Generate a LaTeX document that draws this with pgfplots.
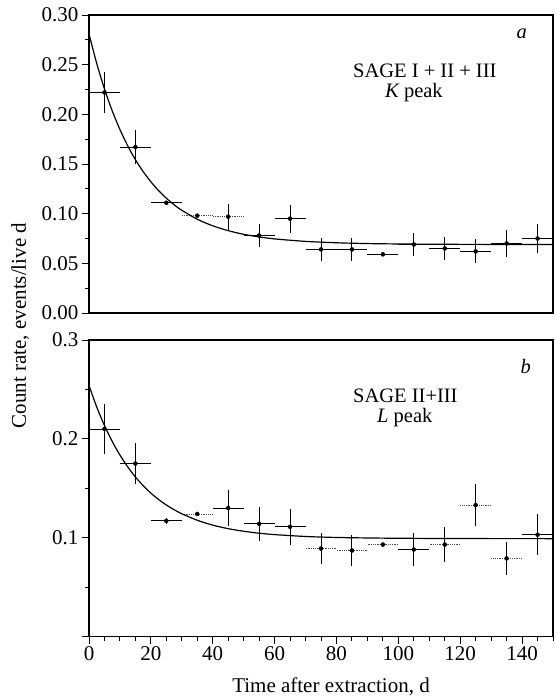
\documentclass[border=0pt]{standalone}
\usepackage{pgfplots}
\pgfplotsset{compat=1.18}
\usepackage{pgfplotstable}
\usepackage{fontspec}
\setmainfont{Liberation Serif}

\pgfplotstableread{
x   y     ex ey    exd
5   0.222 5  0.021 0
15  0.167 5  0.017 0
25  0.111 5  0.002 0
35  0.098 0  0.002 5
45  0.097 0  0.013 5
55  0.078 5  0.012 0
65  0.095 5  0.014 0
75  0.064 5  0.012 0
85  0.064 5  0.012 0
95  0.059 5  0.002 0
105 0.069 5  0.012 0
115 0.065 5  0.012 0
125 0.062 5  0.012 0
135 0.070 5  0.014 0
145 0.075 5  0.015 0
}\topdata

\pgfplotstableread{
x   y     ex ey    exd
5   0.210 5  0.025 0
15  0.175 5  0.021 0
25  0.117 5  0.003 0
35  0.124 0  0.002 5
45  0.130 5  0.018 0
55  0.114 5  0.017 0
65  0.111 5  0.018 0
75  0.089 0  0.016 5
85  0.087 0  0.016 5
95  0.093 0  0.002 5
105 0.088 5  0.017 0
115 0.093 0  0.018 5
125 0.133 0  0.021 5
135 0.079 0  0.017 5
145 0.103 5  0.021 0
}\botdata

\begin{document}
\begin{tikzpicture}[font=\fontsize{21}{25}\selectfont]
\useasboundingbox (0,0) rectangle (556pt,697pt);
\pgfplotsset{
  common/.style={
    scale only axis, width=464pt,
    xmin=0, xmax=150,
    axis line style={line width=1.3pt},
    tick style={line width=0.9pt, black},
    tick align=outside,
    xtick pos=left, ytick pos=left,
    major tick length=7pt, minor tick length=4pt,
    /pgf/number format/assume math mode=true,
    ticklabel style={font=\fontsize{21}{25}\selectfont},
  },
  pts/.style={only marks, mark=*, mark size=1.6pt, black,
    error bars/.cd, x dir=both, x explicit, y dir=both, y explicit,
    error mark=none, error bar style={line width=0.9pt, black}},
  dpts/.style={only marks, mark=none, black,
    error bars/.cd, x dir=both, x explicit,
    error mark=none, error bar style={line width=0.8pt, black!70, densely dotted}},
  fit/.style={black, line width=1.2pt, smooth, no marks},
}
\begin{axis}[common, at={(89pt,384pt)}, anchor=south west, height=298pt,
  ymin=0, ymax=0.30,
  ytick={0,0.05,...,0.31}, minor ytick={0.025,0.075,...,0.3},
  xtick=\empty,
  yticklabel style={/pgf/number format/.cd, fixed, fixed zerofill, precision=2},
]
\addplot[pts] table[x=x, y=y, x error=ex, y error=ey] {\topdata};
\addplot[dpts] table[x=x, y=y, x error=exd] {\topdata};
\addplot[fit] coordinates {
(0,0.281) (2.5,0.2512) (5,0.2256) (7.5,0.2036) (10,0.1847) (12.5,0.1684)
(15,0.1544) (17.5,0.1424) (20,0.1321) (22.5,0.1232) (25,0.1156) (27.5,0.1090)
(30,0.1034) (35,0.0944) (40,0.0878) (45,0.0829) (50,0.0792) (55,0.0766)
(60,0.0746) (70,0.0721) (80,0.0707) (90,0.0699) (100,0.0695) (120,0.0691) (150,0.0690)
};
\end{axis}
\begin{axis}[common, at={(89pt,60.5pt)}, anchor=south west, height=296.5pt,
  ymin=0, ymax=0.3,
  ytick={0,0.1,0.2,0.3}, yticklabels={,0.1,0.2,0.3},
  minor ytick={0.05,0.15,0.25},
  xtick={0,20,...,140}, minor xtick={5,10,...,150},
]
\addplot[pts] table[x=x, y=y, x error=ex, y error=ey] {\botdata};
\addplot[dpts] table[x=x, y=y, x error=exd] {\botdata};
\addplot[fit] coordinates {
(0,0.254) (2.5,0.2322) (5,0.2135) (7.5,0.1974) (10,0.1836) (12.5,0.1717)
(15,0.1614) (17.5,0.1527) (20,0.1451) (22.5,0.1386) (25,0.1331) (27.5,0.1283)
(30,0.1242) (35,0.1176) (40,0.1127) (45,0.1091) (50,0.1065) (55,0.1045)
(60,0.1031) (70,0.1012) (80,0.1002) (90,0.0997) (100,0.0994) (120,0.0991) (150,0.0990)
};
\end{axis}
\begin{scope}[font=\fontsize{20.5}{24}\selectfont]
\node[anchor=base west] at (513pt,658pt) {\itshape a};
\node[anchor=base west, inner sep=0pt] at (353pt,619pt) {SAGE I + II + III};
\node[anchor=base west, inner sep=0pt] at (385pt,599pt) {\itshape K\upshape\ peak};
\node[anchor=base west] at (517pt,323.7pt) {\itshape b};
\node[anchor=base west, inner sep=0pt] at (353pt,294pt) {SAGE II+III};
\node[anchor=base west, inner sep=0pt] at (377pt,274pt) {\itshape L\upshape\ peak};
\end{scope}
\node[anchor=base, inner sep=0pt] at (331pt,4.5pt) {Time after extraction, d};
\node[rotate=90, anchor=base, inner sep=0pt] at (26pt,371.5pt) {Count rate, events/live d};
\end{tikzpicture}
\end{document}
